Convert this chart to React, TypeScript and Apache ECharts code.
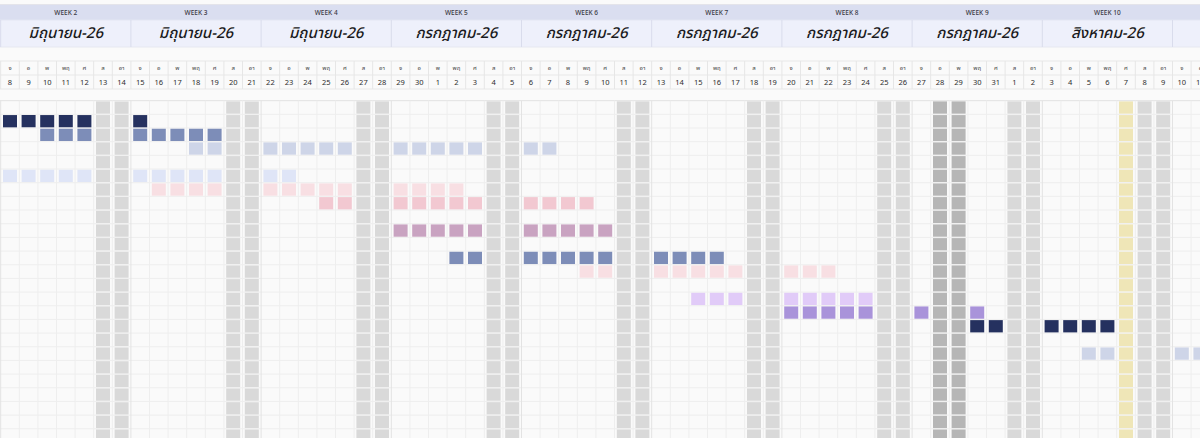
import React, { useEffect, useRef } from "react";
import * as echarts from "echarts";

// ---------- data ----------
const weekLabels = ["WEEK 2", "WEEK 3", "WEEK 4", "WEEK 5", "WEEK 6", "WEEK 7", "WEEK 8", "WEEK 9", "WEEK 10", "WEEK 11"];
const monthLabels = [
  "มิถุนายน-26", "มิถุนายน-26", "มิถุนายน-26", "กรกฎาคม-26", "กรกฎาคม-26",
  "กรกฎาคม-26", "กรกฎาคม-26", "กรกฎาคม-26", "สิงหาคม-26", "สิงหาคม-26",
];
const dayNames = ["จ", "อ", "พ", "พฤ", "ศ", "ส", "อา"];
const dates = [
  8, 9, 10, 11, 12, 13, 14, 15, 16, 17, 18, 19, 20, 21, 22, 23, 24, 25, 26, 27, 28, 29, 30,
  1, 2, 3, 4, 5, 6, 7, 8, 9, 10, 11, 12, 13, 14, 15, 16, 17, 18, 19, 20, 21, 22, 23, 24, 25, 26, 27, 28, 29, 30, 31,
  1, 2, 3, 4, 5, 6, 7, 8, 9, 10, 11,
];
const weekendCols = [5, 6, 12, 13, 19, 20, 26, 27, 33, 34, 40, 41, 47, 48, 54, 55, 61, 62];
const holidayCols = [50, 51];
const markedCols = [60];
const rowCount = 25;

// task cells: [row, dayColumn]
const navyCells = [[1, 0], [1, 1], [1, 2], [1, 3], [1, 4], [1, 7], [16, 52], [16, 53], [16, 56], [16, 57], [16, 58], [16, 59]];
const steelCells = [[2, 2], [2, 3], [2, 4], [2, 7], [2, 8], [2, 9], [2, 10], [2, 11],
  [11, 24], [11, 25], [11, 28], [11, 29], [11, 30], [11, 31], [11, 32], [11, 35], [11, 36], [11, 37], [11, 38]];
const paleBlueCells = [[3, 10], [3, 11], [3, 14], [3, 15], [3, 16], [3, 17], [3, 18], [3, 21], [3, 22], [3, 23], [3, 24], [3, 25], [3, 28], [3, 29],
  [18, 58], [18, 59], [18, 63], [18, 64]];
const iceBlueCells = [[5, 0], [5, 1], [5, 2], [5, 3], [5, 4], [5, 7], [5, 8], [5, 9], [5, 10], [5, 11], [5, 14], [5, 15]];
const palePinkCells = [[6, 8], [6, 9], [6, 10], [6, 11], [6, 14], [6, 15], [6, 16], [6, 17], [6, 18], [6, 21], [6, 22], [6, 23], [6, 24],
  [12, 31], [12, 32], [12, 35], [12, 36], [12, 37], [12, 38], [12, 39], [12, 42], [12, 43], [12, 44]];
const pinkCells = [[7, 17], [7, 18], [7, 21], [7, 22], [7, 23], [7, 24], [7, 25], [7, 28], [7, 29], [7, 30], [7, 31]];
const mauveCells = [[9, 21], [9, 22], [9, 23], [9, 24], [9, 25], [9, 28], [9, 29], [9, 30], [9, 31], [9, 32]];
const lilacCells = [[14, 37], [14, 38], [14, 39], [14, 42], [14, 43], [14, 44], [14, 45], [14, 46]];
const purpleCells = [[15, 42], [15, 43], [15, 44], [15, 45], [15, 46], [15, 49], [15, 52]];

// ---------- layout / style ----------
const W = 1200;
const H = 438;
const COLW = 18.6;
const ROWH = 13.67;
const BODY_TOP = 100.7;
const XMIN = -0.7 / COLW;
const XMAX = XMIN + W / COLW;
const YMIN = -BODY_TOP / ROWH;
const YMAX = YMIN + H / ROWH;
const INSET_X = 2.3;
const INSET_Y = 0.7;
const FONT = "'Noto Sans Thai', 'Noto Sans', 'Open Sans', sans-serif";

const taskSeries = [
  { name: "navy", cells: navyCells, color: "#25315f" },
  { name: "steel", cells: steelCells, color: "#7d8db8" },
  { name: "paleBlue", cells: paleBlueCells, color: "#ced5e8" },
  { name: "iceBlue", cells: iceBlueCells, color: "#dfe5f7" },
  { name: "palePink", cells: palePinkCells, color: "#f8dfe3" },
  { name: "pink", cells: pinkCells, color: "#f2c8d1" },
  { name: "mauve", cells: mauveCells, color: "#c9a3c1" },
  { name: "lilac", cells: lilacCells, color: "#e1cbf8" },
  { name: "purple", cells: purpleCells, color: "#a993da" },
];

function cellRect(api: any, col: number, row: number) {
  const p0 = api.coord([col, row]);
  const p1 = api.coord([col + 1, row + 1]);
  return {
    x: p0[0] + INSET_X,
    y: p0[1] + INSET_Y,
    width: p1[0] - p0[0] - 2 * INSET_X,
    height: p1[1] - p0[1] - 2 * INSET_Y,
  };
}

export default function App() {
  const ref = useRef<HTMLDivElement>(null);

  useEffect(() => {
    document.body.style.margin = "0";
    const chart = echarts.init(ref.current!, null, { renderer: "svg" });

    const backgroundSeries = {
      type: "custom",
      silent: true,
      data: [[0, 0]],
      renderItem: (params: any, api: any) => {
        const children: any[] = [];
        children.push({ type: "rect", shape: { x: 0, y: 0, width: W, height: H }, style: { fill: "#fafafa" } });
        children.push({ type: "rect", shape: { x: 0, y: 5, width: W, height: 15 }, style: { fill: "#dadef0" } });
        children.push({ type: "rect", shape: { x: 0, y: 20, width: W, height: 27 }, style: { fill: "#eef0fb" } });
        children.push({ type: "line", shape: { x1: 0, y1: 4.5, x2: W, y2: 4.5 }, style: { stroke: "#e4e4ea", lineWidth: 1 } });
        children.push({ type: "line", shape: { x1: 0, y1: 20, x2: W, y2: 20 }, style: { stroke: "#e3e6f3", lineWidth: 1 } });
        children.push({ type: "line", shape: { x1: 0, y1: 47, x2: W, y2: 47 }, style: { stroke: "#e6e8f0", lineWidth: 1 } });
        children.push({ type: "line", shape: { x1: 0, y1: 61, x2: W, y2: 61 }, style: { stroke: "#e8e8e8", lineWidth: 1 } });
        children.push({ type: "line", shape: { x1: 0, y1: 75, x2: W, y2: 75 }, style: { stroke: "#e8e8e8", lineWidth: 1 } });
        children.push({ type: "line", shape: { x1: 0, y1: 89, x2: W, y2: 89 }, style: { stroke: "#e8e8e8", lineWidth: 1 } });
        for (let r = 0; r <= rowCount; r++) {
          const y = api.coord([0, r])[1];
          children.push({ type: "line", shape: { x1: 0, y1: y, x2: W, y2: y }, style: { stroke: r === 0 ? "#e2e2e2" : "#eeeeee", lineWidth: 1 } });
        }
        return { type: "group", children };
      },
    };

    const columnSeries = {
      type: "custom",
      silent: true,
      data: dates.map((d, i) => [i, 0, d]),
      renderItem: (params: any, api: any) => {
        const col = api.value(0);
        const date = dates[params.dataIndex];
        const x0 = api.coord([col, 0])[0];
        const x1 = api.coord([col + 1, 0])[0];
        const xc = (x0 + x1) / 2;
        const children: any[] = [];
        const weekStart = col % 7 === 0;
        children.push({ type: "line", shape: { x1: x0, y1: BODY_TOP, x2: x0, y2: H }, style: { stroke: weekStart ? "#e3e3e3" : "#eeeeee", lineWidth: 1 } });
        children.push({ type: "line", shape: { x1: x0, y1: 61, x2: x0, y2: 89 }, style: { stroke: "#e6e6e6", lineWidth: 1 } });
        children.push({
          type: "text",
          style: { text: dayNames[col % 7], x: xc, y: 68, align: "center", verticalAlign: "middle", fontSize: 6, fill: "#444", fontFamily: FONT },
        });
        children.push({
          type: "text",
          style: { text: String(date), x: xc, y: 82, align: "center", verticalAlign: "middle", fontSize: 7.5, fill: "#2e2e2e", fontFamily: FONT },
        });
        let fill: string | null = null;
        if (holidayCols.includes(col)) fill = "#b6b6b6";
        else if (markedCols.includes(col)) fill = "#efe6b7";
        else if (weekendCols.includes(col)) fill = "#d9d9d9";
        if (fill) {
          for (let r = 0; r < rowCount; r++) {
            children.push({ type: "rect", shape: cellRect(api, col, r), style: { fill } });
          }
        }
        return { type: "group", children };
      },
    };

    const weekSeries = {
      type: "custom",
      silent: true,
      data: weekLabels.map((w, i) => [i * 7, 0]),
      renderItem: (params: any, api: any) => {
        const col = api.value(0);
        const x0 = api.coord([col, 0])[0];
        const x1 = api.coord([col + 7, 0])[0];
        const xc = (x0 + x1) / 2;
        return {
          type: "group",
          children: [
            { type: "line", shape: { x1: x0, y1: 20, x2: x0, y2: 47 }, style: { stroke: "#d9dcec", lineWidth: 1 } },
            {
              type: "text",
              style: { text: weekLabels[params.dataIndex], x: xc, y: 13, align: "center", verticalAlign: "middle", fontSize: 6.5, fontWeight: 500, fill: "#3a3a44", fontFamily: FONT },
            },
            {
              type: "text",
              style: { text: monthLabels[params.dataIndex], x: xc, y: 33.5, align: "center", verticalAlign: "middle", fontSize: 15, fontWeight: 500, fontStyle: "italic", fill: "#1a1a20", fontFamily: FONT },
            },
          ],
        };
      },
    };

    const tasks = taskSeries.map((t) => ({
      type: "custom",
      name: t.name,
      data: t.cells.map(([row, col]) => [col, row]),
      renderItem: (params: any, api: any) => {
        const col = api.value(0);
        const row = api.value(1);
        return { type: "rect", shape: cellRect(api, col, row), style: { fill: t.color } };
      },
    }));

    chart.setOption({
      animation: false,
      grid: { left: 0, right: 0, top: 0, bottom: 0 },
      xAxis: { type: "value", min: XMIN, max: XMAX, show: false },
      yAxis: { type: "value", min: YMIN, max: YMAX, inverse: true, show: false },
      series: [backgroundSeries, columnSeries, weekSeries, ...tasks],
    });
    return () => chart.dispose();
  }, []);

  return <div ref={ref} style={{ width: W, height: H }} />;
}
